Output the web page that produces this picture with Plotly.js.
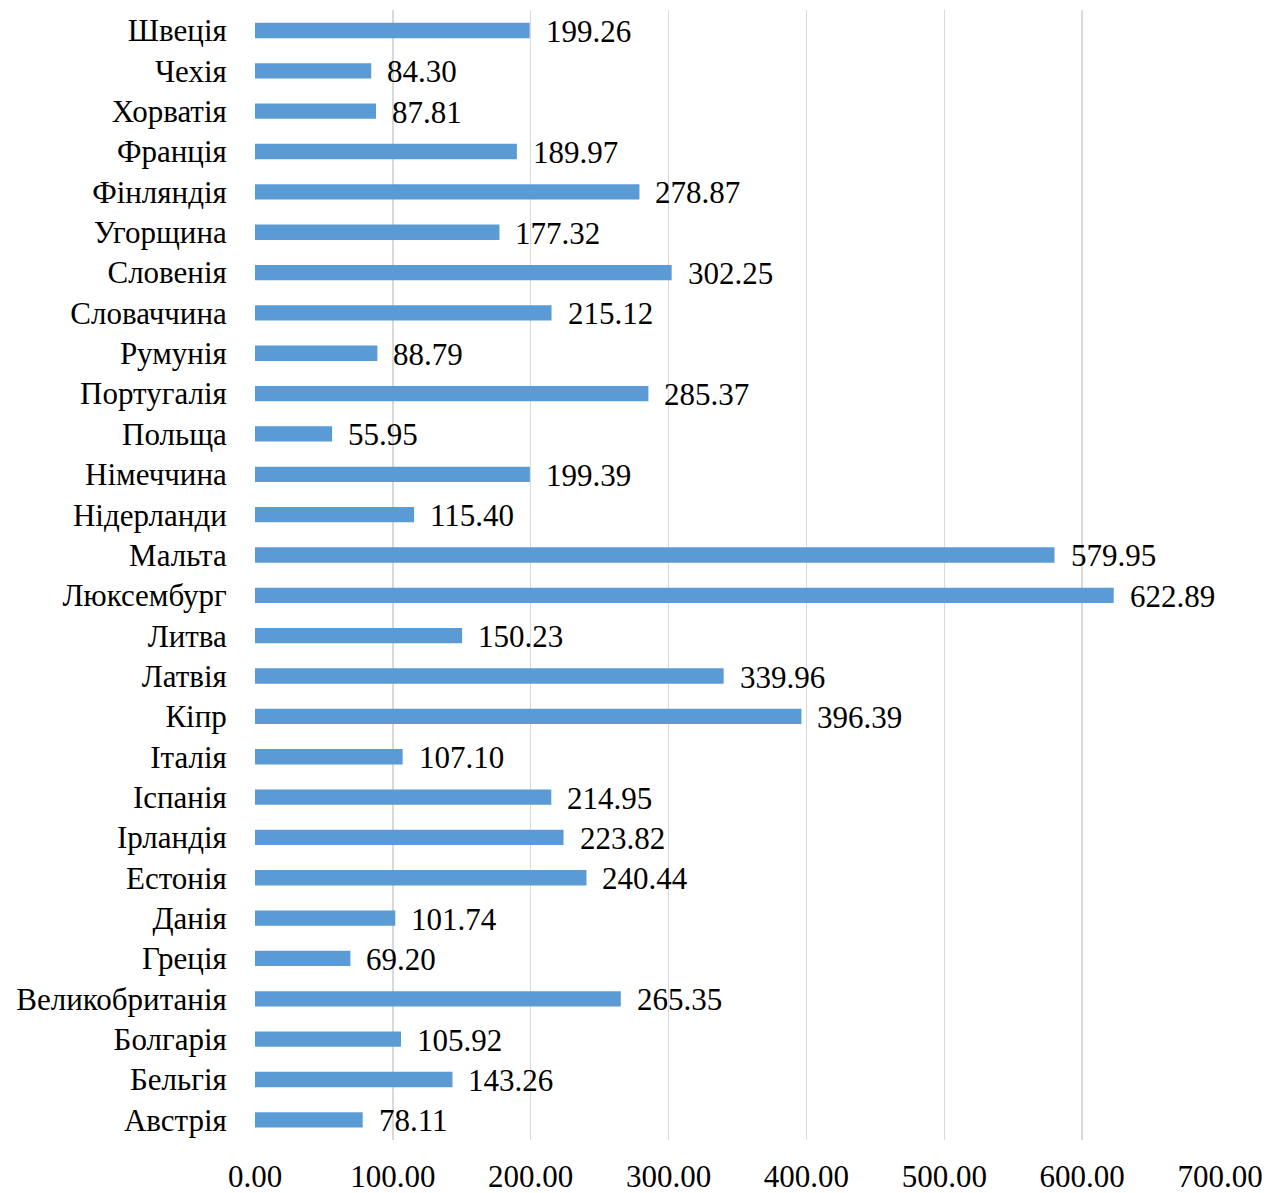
<!DOCTYPE html>
<html>
<head>
<meta charset="utf-8">
<script src="https://cdn.plot.ly/plotly-3.0.1.min.js"></script>
<style>html,body{margin:0;padding:0;background:#fff;}#chart{width:1266px;height:1193px;}</style>
</head>
<body>
<div id="chart"></div>
<script>
const countries = ["Швеція","Чехія","Хорватія","Франція","Фінляндія","Угорщина","Словенія","Словаччина","Румунія","Португалія","Польща","Німеччина","Нідерланди","Мальта","Люксембург","Литва","Латвія","Кіпр","Італія","Іспанія","Ірландія","Естонія","Данія","Греція","Великобританія","Болгарія","Бельгія","Австрія"];
const values = [199.26,84.30,87.81,189.97,278.87,177.32,302.25,215.12,88.79,285.37,55.95,199.39,115.40,579.95,622.89,150.23,339.96,396.39,107.10,214.95,223.82,240.44,101.74,69.20,265.35,105.92,143.26,78.11];
const xTicks = [0,100,200,300,400,500,600,700];

const font = {family: "Liberation Serif, 'Times New Roman', serif", size: 31, color: "#000"};

const annotations = countries.map((c, i) => ({
  x: values[i], y: c, xref: "x", yref: "y",
  text: values[i].toFixed(2), showarrow: false,
  xanchor: "left", yanchor: "middle", xshift: 14, yshift: -1,
  font: font
}));

Plotly.newPlot("chart", [{
  type: "bar", orientation: "h",
  x: values, y: countries,
  width: 0.38,
  marker: {color: "#5B9BD5"},
  hoverinfo: "none"
}], {
  width: 1266, height: 1193,
  margin: {l: 255, r: 46, t: 10, b: 53},
  paper_bgcolor: "#fff", plot_bgcolor: "#fff",
  font: font,
  showlegend: false,
  xaxis: {
    range: [0, 700], tickvals: xTicks, ticktext: xTicks.map(v => v.toFixed(2)),
    showgrid: true, gridcolor: "#D9D9D9", gridwidth: 1.5,
    zeroline: false, showline: false,
    ticks: "outside", ticklen: 9, tickcolor: "rgba(0,0,0,0)",
    tickfont: font, fixedrange: true
  },
  yaxis: {
    autorange: "reversed", type: "category",
    showgrid: false, zeroline: false, showline: false,
    ticks: "outside", ticklen: 21, tickcolor: "rgba(0,0,0,0)",
    tickfont: font, fixedrange: true
  },
  annotations: annotations
}, {displayModeBar: false, staticPlot: true});
</script>
</body>
</html>
